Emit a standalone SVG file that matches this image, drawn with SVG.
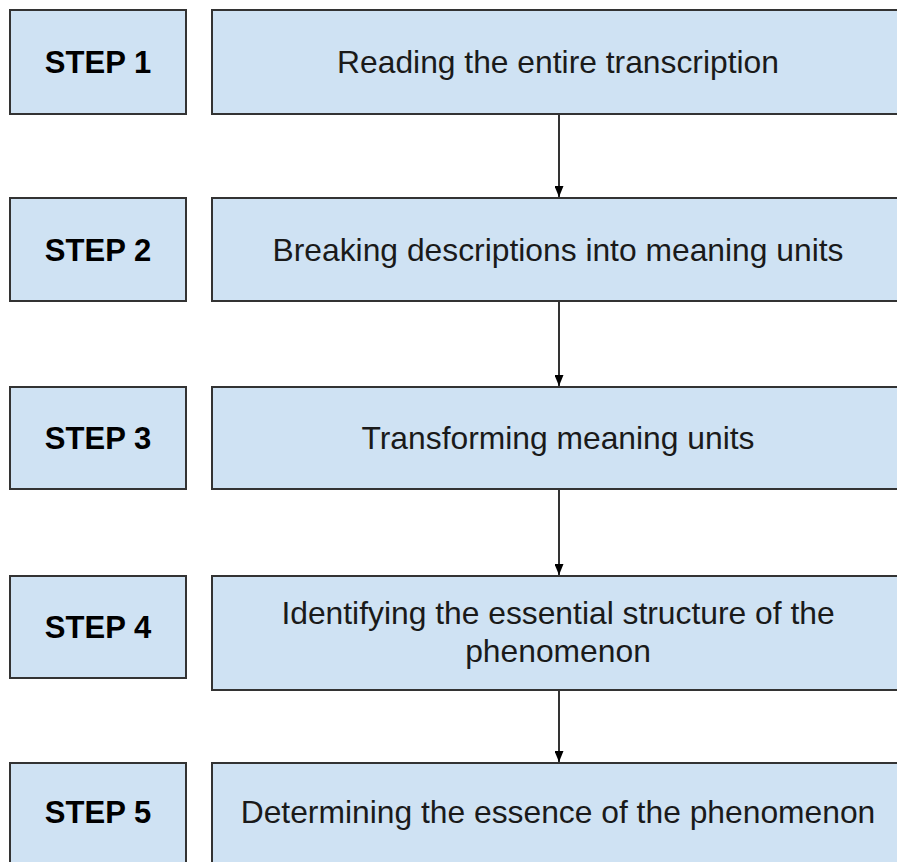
<svg xmlns="http://www.w3.org/2000/svg" width="897" height="862" viewBox="0 0 897 862">
<style>
.box{fill:#cfe2f3;stroke:#333;stroke-width:2}
.lbl{font-family:"Liberation Sans",Arial,sans-serif;font-size:31px;font-weight:bold;fill:#000;text-anchor:middle}
.txt{font-family:"Liberation Sans",Arial,sans-serif;font-size:31.8px;fill:#1a1a1a;text-anchor:middle}
.con{stroke:#000;stroke-width:1.6;fill:none}
</style>
<defs>
<marker id="ah" viewBox="0 0 11 9" refX="11" refY="4.5" markerWidth="11" markerHeight="9" markerUnits="userSpaceOnUse" orient="auto">
<path d="M0,0 L11,4.5 L0,9 z" fill="#000"/>
</marker>
</defs>
<rect width="897" height="862" fill="#fff"/>
<g id="connectors">
<line class="con" x1="559" y1="114" x2="559" y2="197" marker-end="url(#ah)"/>
<line class="con" x1="559" y1="301" x2="559" y2="386" marker-end="url(#ah)"/>
<line class="con" x1="559" y1="489" x2="559" y2="575" marker-end="url(#ah)"/>
<line class="con" x1="559" y1="690" x2="559" y2="762" marker-end="url(#ah)"/>
</g>
<g id="step1">
<rect class="box" x="10" y="10" width="176" height="104"/>
<text class="lbl" x="98" y="73">STEP 1</text>
</g>
<g id="desc1">
<rect class="box" x="212" y="10" width="694" height="104"/>
<text class="txt" x="558" y="73">Reading the entire transcription</text>
</g>
<g id="step2">
<rect class="box" x="10" y="198" width="176" height="103"/>
<text class="lbl" x="98" y="261">STEP 2</text>
</g>
<g id="desc2">
<rect class="box" x="212" y="198" width="694" height="103"/>
<text class="txt" x="558" y="261">Breaking descriptions into meaning units</text>
</g>
<g id="step3">
<rect class="box" x="10" y="387" width="176" height="102"/>
<text class="lbl" x="98" y="449">STEP 3</text>
</g>
<g id="desc3">
<rect class="box" x="212" y="387" width="694" height="102"/>
<text class="txt" x="558" y="449">Transforming meaning units</text>
</g>
<g id="step4">
<rect class="box" x="10" y="576" width="176" height="102"/>
<text class="lbl" x="98" y="638">STEP 4</text>
</g>
<g id="desc4">
<rect class="box" x="212" y="576" width="694" height="114"/>
<text class="txt" x="558" y="624">Identifying the essential structure of the</text>
<text class="txt" x="558" y="662">phenomenon</text>
</g>
<g id="step5">
<rect class="box" x="10" y="763" width="176" height="104"/>
<text class="lbl" x="98" y="823">STEP 5</text>
</g>
<g id="desc5">
<rect class="box" x="212" y="763" width="694" height="104"/>
<text class="txt" x="558" y="823">Determining the essence of the phenomenon</text>
</g>
</svg>
